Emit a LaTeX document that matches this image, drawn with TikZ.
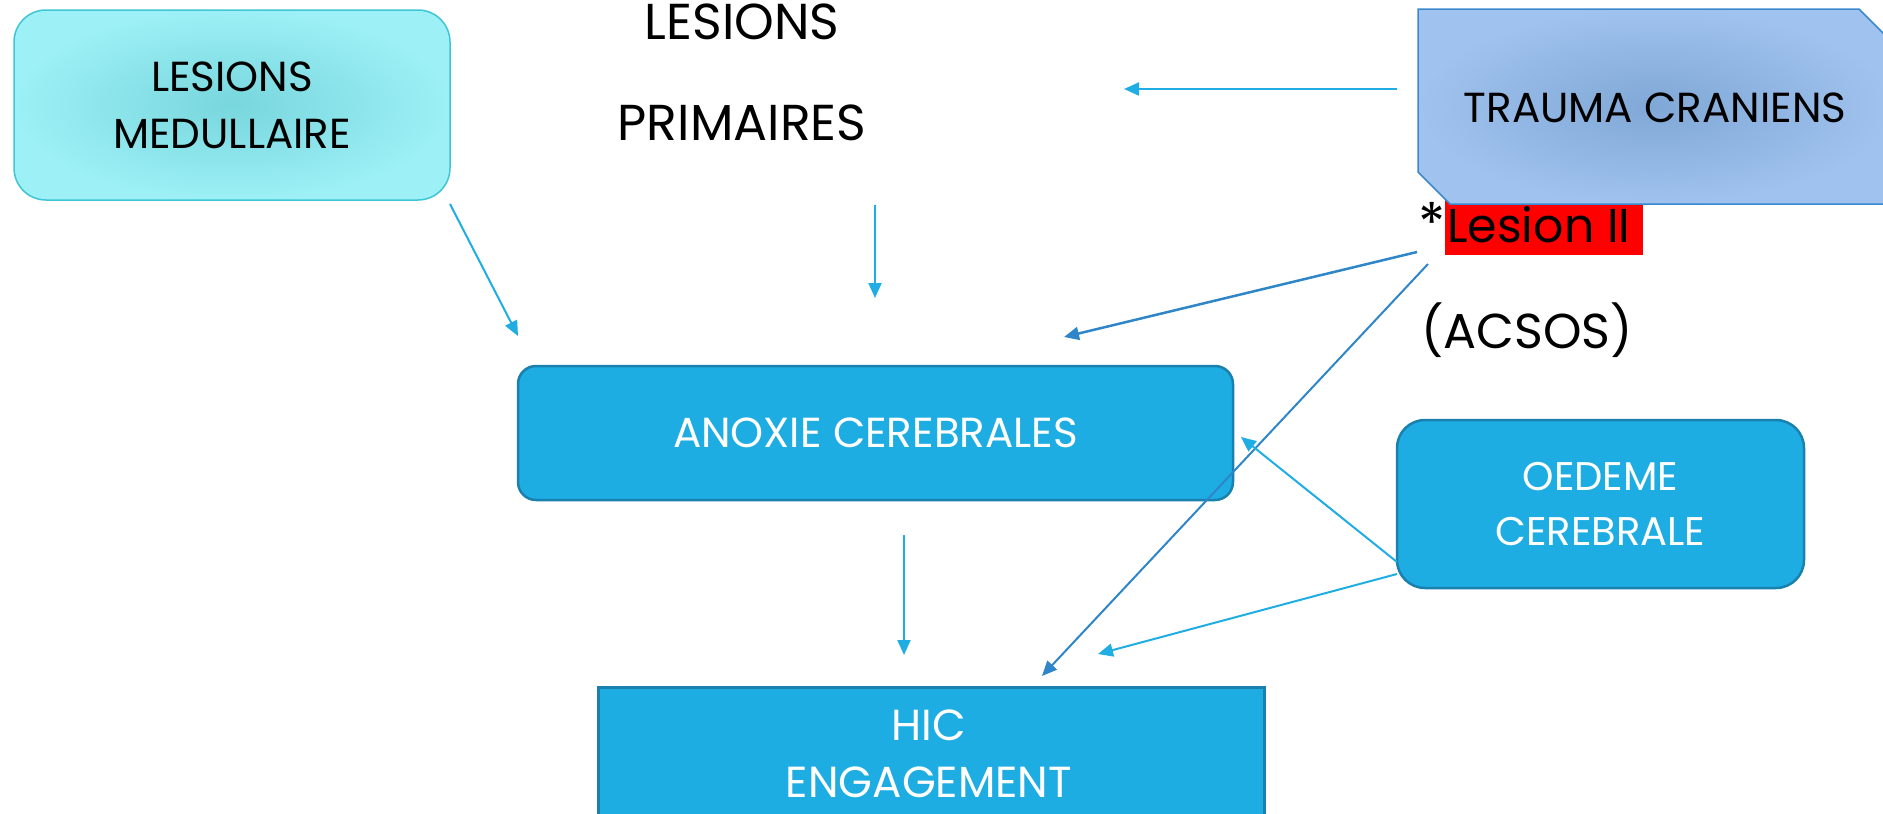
\documentclass[tikz,border=0pt]{standalone}
\usepackage{fontspec}
\setmainfont{Poppins}
\usetikzlibrary{arrows.meta}

\definecolor{medin}{HTML}{78D6DD}
\definecolor{medout}{HTML}{9CF0F6}
\definecolor{medline}{HTML}{3EC6D6}
\definecolor{trin}{HTML}{80A8D6}
\definecolor{trout}{HTML}{A0C2EE}
\definecolor{trline}{HTML}{3B88CC}
\definecolor{cblue}{HTML}{1EADE3}
\definecolor{bline}{HTML}{1A80AD}
\definecolor{lblue}{HTML}{1FADE3}
\definecolor{dblue}{HTML}{2E85C8}
\definecolor{hired}{HTML}{FF0000}

\tikzset{
  arr/.style={-{Triangle[length=15pt,width=13pt]}, line width=2pt, draw=lblue},
  arrdark/.style={arr, draw=dblue, line width=2.5pt},
  bluebox/.style={draw=bline, line width=2.5pt, fill=cblue, text=white,
    align=center, inner sep=0pt},
  boxtext/.style={font=\fontsize{42}{57}\selectfont},
  bigtext/.style={font=\fontsize{50.5}{101}\selectfont, align=center, inner sep=0pt},
  plain/.style={inner sep=0pt, anchor=base west},
}

\begin{document}
\begin{tikzpicture}[x=1pt, y=-1pt]
\useasboundingbox (0,0) rectangle (1883,814);

% spinal cord lesions
\node[shade, inner color=medin, outer color=medout, draw=medline, line width=1.5pt,
      rounded corners=32pt, minimum width=436pt, minimum height=190pt,
      align=center, inner sep=0pt, boxtext] (med) at (232,105) {LESIONS\\MEDULLAIRE};

% primary lesions heading
\node[bigtext] (prim) at (742,72) {LESIONS\\PRIMAIRES};

% secondary lesion highlight, partly hidden under the trauma shape
\node[fill=hired, minimum width=198pt, minimum height=60pt, inner sep=0pt,
      anchor=south west] (lesbg) at (1445,255) {};

% cranial trauma (snipped corners)
\shade[inner color=trin, outer color=trout, draw=trline, line width=1.5pt]
  (1418,9) -- (1859,9) -- (1891,41) -- (1891,204) -- (1450,204) -- (1418,172) -- cycle;
\node[font=\fontsize{42}{50}\selectfont, inner sep=0pt] (trauma) at (1655,108) {TRAUMA CRANIENS};

% secondary lesion label
\node[font=\fontsize{56}{60}\selectfont, inner sep=0pt, anchor=north west] (star) at (1418,202) {*};
\node[plain, font=\fontsize{47.5}{60}\selectfont] (les2) at (1447,242) {Lesion II};
\node[plain, font=\fontsize{49}{60}\selectfont] (acsos) at (1421,348) {(ACSOS)};

% blue boxes
\node[bluebox, rounded corners=18pt, minimum width=715pt, minimum height=134pt,
      font=\fontsize{42}{57}\selectfont] (anox) at (875.5,433) {ANOXIE CEREBRALES};
\node[bluebox, rounded corners=28pt, minimum width=407pt, minimum height=168pt,
      font=\fontsize{40}{55}\selectfont] (oed) at (1600.5,504) {OEDEME\\CEREBRALE};
\node[bluebox, minimum width=666pt, minimum height=160pt,
      anchor=north west] (hic) at (597,686) {};
\node[text=white, align=center, inner sep=0pt, font=\fontsize{43.5}{57}\selectfont]
      (hictext) at (929,753.5) {HIC\\ENGAGEMENT};

% arrow end points
\coordinate (a1s) at (450,204);   \coordinate (a1e) at (518,336);
\coordinate (a2s) at (875,205);   \coordinate (a2e) at (875,298);
\coordinate (a3s) at (1397,89);   \coordinate (a3e) at (1124,89);
\coordinate (a4s) at (1417,252);  \coordinate (a4e) at (1064,337);
\coordinate (a5s) at (1428,264);  \coordinate (a5e) at (1042,676);
\coordinate (a6s) at (1397,562);  \coordinate (a6e) at (1241,437);
\coordinate (a7s) at (1397,574);  \coordinate (a7e) at (1098,654);
\coordinate (a8s) at (904,535);   \coordinate (a8e) at (904,655);

% connectors
\draw[arr] (a1s) -- (a1e);
\draw[arr] (a2s) -- (a2e);
\draw[arr] (a3s) -- (a3e);
\draw[arrdark] (a4s) -- (a4e);
\draw[arrdark, line width=2pt] (a5s) -- (a5e);
\draw[arr] (a6s) -- (a6e);
\draw[arr] (a7s) -- (a7e);
\draw[arr] (a8s) -- (a8e);
\end{tikzpicture}
\end{document}
